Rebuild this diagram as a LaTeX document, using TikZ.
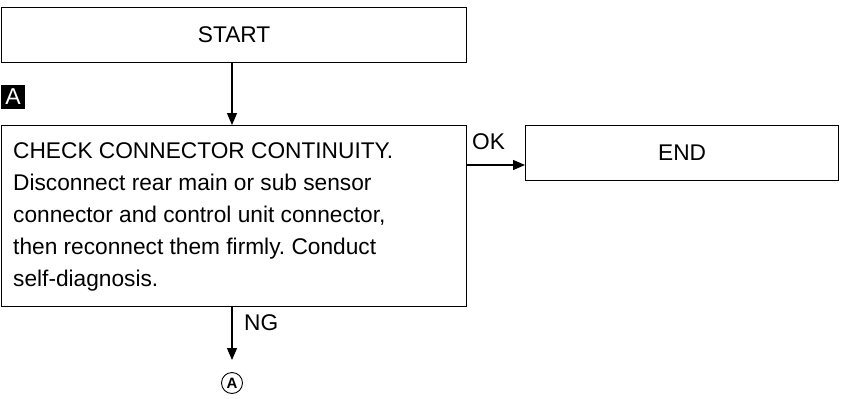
\documentclass[tikz,border=0pt]{standalone}
\usepackage{fontspec}
\setmainfont{Liberation Sans}
\usetikzlibrary{arrows.meta}
\frenchspacing
\begin{document}
\begin{tikzpicture}[x=1pt,y=-1pt,
  box/.style={draw,line width=1.3pt,minimum height=55pt,inner sep=0pt},
  conn/.style={line width=1.3pt,-{Triangle[length=12pt,width=10pt]}},
  big/.style={font=\fontsize{22.7}{26}\selectfont},
  lbl/.style={big,inner sep=0pt}]
\useasboundingbox (0,0) rectangle (849,399);
\node[box,big,minimum width=465pt,anchor=north west] (start) at (1,7) {START};
\node[box,minimum width=465pt,minimum height=181pt,anchor=north west] (check) at (1,125) {};
\node[inner sep=0pt,anchor=north west,align=left,font=\fontsize{22.7}{32}\selectfont] (txt) at (13,142)
 {CHECK CONNECTOR CONTINUITY.\\Disconnect rear main or sub sensor\\connector and control unit connector,\\then reconnect them firmly. Conduct\\self-diagnosis.};
\node[box,big,minimum width=313pt,anchor=north west] (end) at (525,125) {END};
\node[fill=black,text=white,font=\fontsize{23}{24}\selectfont,inner sep=0pt,minimum width=24pt,minimum height=24pt] (la) at (13,97) {A};
\coordinate (okp) at (check.east |- 0,165);
\draw[conn] (start.south -| 232,0) -- (check.north -| 232,0);
\draw[conn] (okp) -- (end.west |- okp);
\node[lbl,anchor=base west] (ok) at (472,149) {OK};
\node[draw,circle,line width=0.9pt,inner sep=0pt,minimum size=21pt,font=\bfseries\fontsize{15}{16}\selectfont] (ca) at (232,383) {A};
\draw[conn] (check.south -| 232,0) -- (232,360);
\node[lbl,anchor=base west] (ng) at (244,330) {NG};
\end{tikzpicture}
\end{document}
